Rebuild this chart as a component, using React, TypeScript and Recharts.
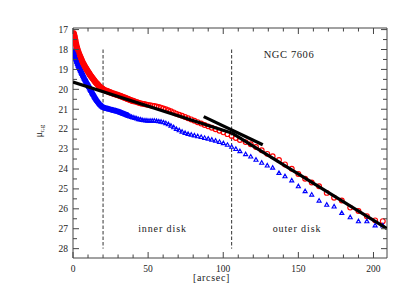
import React from "react";
import { ComposedChart, Scatter, XAxis, YAxis, ReferenceLine, Customized } from "recharts";

const radius = [
  0.5, 1, 1.5, 2, 2.5, 3, 3.5, 4, 4.5, 5, 5.5, 6, 6.5, 7, 7.5, 8, 8.5, 9, 9.5, 10,
  10.5, 11, 11.5, 12, 12.5, 13, 13.5, 14, 14.5, 15, 15.5, 16, 16.5, 17, 17.5, 18, 18.5, 19, 19.5, 20,
  21, 22, 23, 24, 25, 26, 27, 28, 29, 30, 31, 32, 33, 34, 35, 36, 37, 38, 39, 40,
  41.2, 42.4, 43.6, 44.8, 46, 47.3, 48.6, 49.9, 51.3, 52.7, 54.1, 55.6, 57.1, 58.6, 60.2, 61.8, 63.5, 65.2, 67, 68.8,
  70.7, 72.6, 74.6, 76.6, 78.7, 80.8, 83, 85.3, 87.6, 90, 92.4, 94.9, 97.5, 100.1, 102.8, 105.6, 108.4, 111.1, 114.9, 118.3,
  121.8, 125.6, 129.3, 132.9, 137.1, 141.1, 145.6, 150, 154.5, 158.9, 163.8, 168.9, 173.8, 178.9, 184.5, 190, 195.6, 201.1, 206.2,
];

const muR = [
  17.2, 17.35, 17.55, 17.72, 17.88, 18.02, 18.13, 18.22, 18.31, 18.4, 18.49, 18.58, 18.66, 18.73, 18.8, 18.87, 18.93, 18.99, 19.05, 19.11,
  19.17, 19.23, 19.29, 19.34, 19.39, 19.44, 19.49, 19.54, 19.59, 19.64, 19.68, 19.72, 19.76, 19.8, 19.84, 19.88, 19.91, 19.94, 19.97, 20.0,
  20.04, 20.07, 20.1, 20.13, 20.16, 20.19, 20.22, 20.24, 20.27, 20.29, 20.32, 20.35, 20.38, 20.41, 20.44, 20.47, 20.5, 20.53, 20.56, 20.58,
  20.61, 20.64, 20.67, 20.7, 20.72, 20.74, 20.76, 20.78, 20.8, 20.82, 20.84, 20.86, 20.89, 20.92, 20.96, 21.0, 21.05, 21.1, 21.16, 21.22,
  21.28, 21.33, 21.39, 21.45, 21.51, 21.58, 21.65, 21.72, 21.79, 21.86, 21.93, 22.0, 22.08, 22.16, 22.25, 22.34, 22.44, 22.54, 22.65, 22.76,
  22.9, 23.06, 23.24, 23.36, 23.55, 23.77, 23.99, 24.25, 24.49, 24.68, 24.87, 25.2, 25.44, 25.58, 25.94, 26.11, 26.37, 26.58, 26.62,
];

const muG = [
  18.1, 18.22, 18.35, 18.48, 18.6, 18.71, 18.81, 18.9, 18.98, 19.06, 19.14, 19.22, 19.3, 19.38, 19.46, 19.53, 19.6, 19.67, 19.74, 19.8,
  19.87, 19.94, 20.01, 20.08, 20.15, 20.22, 20.28, 20.35, 20.41, 20.47, 20.53, 20.58, 20.63, 20.68, 20.73, 20.77, 20.8, 20.84, 20.87, 20.9,
  20.93, 20.95, 20.97, 20.99, 21.01, 21.03, 21.05, 21.07, 21.09, 21.11, 21.14, 21.17, 21.2, 21.23, 21.26, 21.29, 21.32, 21.35, 21.38, 21.4,
  21.43, 21.46, 21.49, 21.51, 21.53, 21.55, 21.56, 21.57, 21.57, 21.57, 21.57, 21.58, 21.6, 21.62, 21.65, 21.69, 21.75, 21.82, 21.9, 21.98,
  22.05, 22.12, 22.18, 22.23, 22.27, 22.31, 22.35, 22.39, 22.43, 22.47, 22.52, 22.57, 22.63, 22.7, 22.78, 22.88, 22.99, 23.1, 23.25, 23.37,
  23.53, 23.68, 23.82, 23.93, 24.19, 24.36, 24.57, 24.86, 25.11, 25.28, 25.58, 25.79, 25.88, 26.2, 26.42, 26.62, 26.62, 26.83, 26.83,
];

const innerFitR = [0, 105.6];
const innerFitMu = [19.63, 22.19];
const outerFitR = [105.6, 209];
const outerFitMu = [22.19, 27.0];
const breakFitR = [87, 126.3];
const breakFitMu = [21.37, 22.78];

const diskBreaks = [20, 105.6];
const denseLimitR = 40;
const denseLimitG = 36;
const xTicks = [0, 10, 20, 30, 40, 50, 60, 70, 80, 90, 100, 110, 120, 130, 140, 150, 160, 170, 180, 190, 200];
const yTicks = [17, 17.5, 18, 18.5, 19, 19.5, 20, 20.5, 21, 21.5, 22, 22.5, 23, 23.5, 24, 24.5, 25, 25.5, 26, 26.5, 27, 27.5, 28];

const zip = (xs: number[], ys: number[]) =>
  xs.slice(0, Math.min(xs.length, ys.length)).map((r, i) => ({ r, mu: ys[i] }));

const redData = zip(radius, muR);
const blueData = zip(radius, muG);
const redDense = redData.filter((d) => d.r <= denseLimitR);
const blueDense = blueData.filter((d) => d.r <= denseLimitG);
const innerFit = zip(innerFitR, innerFitMu);
const outerFit = zip(outerFitR, outerFitMu);
const breakFit = zip(breakFitR, breakFitMu);

const FONT = "'Liberation Serif', 'DejaVu Serif', serif";
const AX = "#444";

const BottomTick = (p: any) => {
  const v = p.payload.value;
  const major = v % 50 === 0;
  return (
    <g>
      <line x1={p.x} y1={p.y} x2={p.x} y2={p.y - (major ? 6 : 3.5)} stroke={AX} strokeWidth={1} />
      {major && (
        <text x={p.x} y={p.y + 13.5} textAnchor="middle" fontFamily={FONT} fontSize={9.5} fill="#222">
          {v}
        </text>
      )}
    </g>
  );
};
const TopTick = (p: any) => {
  const major = p.payload.value % 50 === 0;
  return <line x1={p.x} y1={p.y} x2={p.x} y2={p.y + (major ? 6 : 3.5)} stroke={AX} strokeWidth={1} />;
};
const LeftTick = (p: any) => {
  const v = p.payload.value;
  const major = Number.isInteger(v);
  return (
    <g>
      <line x1={p.x} y1={p.y} x2={p.x + (major ? 6 : 4)} y2={p.y} stroke={AX} strokeWidth={1} />
      {major && (
        <text x={p.x - 5} y={p.y + 3.3} textAnchor="end" fontFamily={FONT} fontSize={9.5} fill="#222">
          {v}
        </text>
      )}
    </g>
  );
};
const RightTick = (p: any) => {
  const major = Number.isInteger(p.payload.value);
  return <line x1={p.x} y1={p.y} x2={p.x - (major ? 6 : 4)} y2={p.y} stroke={AX} strokeWidth={1} />;
};

const RedCircle = (p: any) => (
  <circle cx={p.cx} cy={p.cy} r={2.4} fill="none" stroke="#ff0000" strokeWidth={1.15} />
);
const BlueTriangle = (p: any) => (
  <polygon
    points={`${p.cx - 2},${p.cy + 1.6} ${p.cx + 2},${p.cy + 1.6} ${p.cx},${p.cy - 1.9}`}
    fill="none"
    stroke="#0000ff"
    strokeWidth={1.15}
  />
);
const NoDot = () => <g />;

const Labels = () => (
  <g fontFamily={FONT} fill="#222">
    <text x={281} y={50} fontSize={10.5} textAnchor="middle" letterSpacing={0.6}>NGC  7606</text>
    <text x={154.5} y={224} fontSize={10} textAnchor="middle" letterSpacing={0.9}>inner  disk</text>
    <text x={289} y={224} fontSize={10} textAnchor="middle" letterSpacing={0.9}>outer  disk</text>
    <text x={203.5} y={273} fontSize={10} textAnchor="middle" letterSpacing={0.7}>[arcsec]</text>
    <text transform="translate(34,123) rotate(-90)" textAnchor="middle" fontSize={10}>
      μ<tspan fontSize={7} dy={2}>r,g</tspan>
    </text>
  </g>
);

export default function App() {
  return (
    <ComposedChart width={391} height={300} margin={{ top: 0, right: 2, bottom: 20, left: 5 }}>
      <XAxis xAxisId="b" type="number" dataKey="r" domain={[0, 209]} allowDataOverflow ticks={xTicks}
        tickSize={0} tickMargin={0} tick={<BottomTick />} height={30} axisLine={{ stroke: AX }} interval={0} />
      <XAxis xAxisId="t" orientation="top" type="number" dataKey="r" domain={[0, 209]} allowDataOverflow ticks={xTicks}
        tickSize={0} tickMargin={0} tick={<TopTick />} height={20} axisLine={{ stroke: AX }} interval={0} />
      <YAxis yAxisId="l" type="number" dataKey="mu" domain={[16.92, 28.47]} reversed allowDataOverflow ticks={yTicks}
        tickSize={0} tickMargin={0} tick={<LeftTick />} width={60} axisLine={{ stroke: AX }} interval={0} />
      <YAxis yAxisId="rt" orientation="right" type="number" dataKey="mu" domain={[16.92, 28.47]} reversed allowDataOverflow ticks={yTicks}
        tickSize={0} tickMargin={0} tick={<RightTick />} width={10} axisLine={{ stroke: AX }} interval={0} />
      {diskBreaks.map((b) => (
        <ReferenceLine key={b} xAxisId="b" yAxisId="l" segment={[{ x: b, y: 18 }, { x: b, y: 28 }]}
          stroke="#333" strokeWidth={1} strokeDasharray="3.5 2" />
      ))}
      <Scatter xAxisId="b" yAxisId="l" data={redDense} dataKey="mu" shape={<NoDot />}
        line={{ stroke: "#ff0000", strokeWidth: 6.4, strokeLinecap: "round", strokeLinejoin: "round" }} isAnimationActive={false} />
      <Scatter xAxisId="b" yAxisId="l" data={blueDense} dataKey="mu" shape={<NoDot />}
        line={{ stroke: "#0000ff", strokeWidth: 5.8, strokeLinecap: "round", strokeLinejoin: "round" }} isAnimationActive={false} />
      <Scatter xAxisId="b" yAxisId="l" data={redData} dataKey="mu" shape={<RedCircle />} isAnimationActive={false} />
      <Scatter xAxisId="b" yAxisId="l" data={blueData} dataKey="mu" shape={<BlueTriangle />} isAnimationActive={false} />
      <Scatter xAxisId="b" yAxisId="l" data={innerFit} dataKey="mu" shape={<NoDot />} line={{ stroke: "#000", strokeWidth: 3.2 }} isAnimationActive={false} />
      <Scatter xAxisId="b" yAxisId="l" data={outerFit} dataKey="mu" shape={<NoDot />} line={{ stroke: "#000", strokeWidth: 3.2 }} isAnimationActive={false} />
      <Scatter xAxisId="b" yAxisId="l" data={breakFit} dataKey="mu" shape={<NoDot />} line={{ stroke: "#000", strokeWidth: 3.2 }} isAnimationActive={false} />
      <Customized component={Labels} />
    </ComposedChart>
  );
}
